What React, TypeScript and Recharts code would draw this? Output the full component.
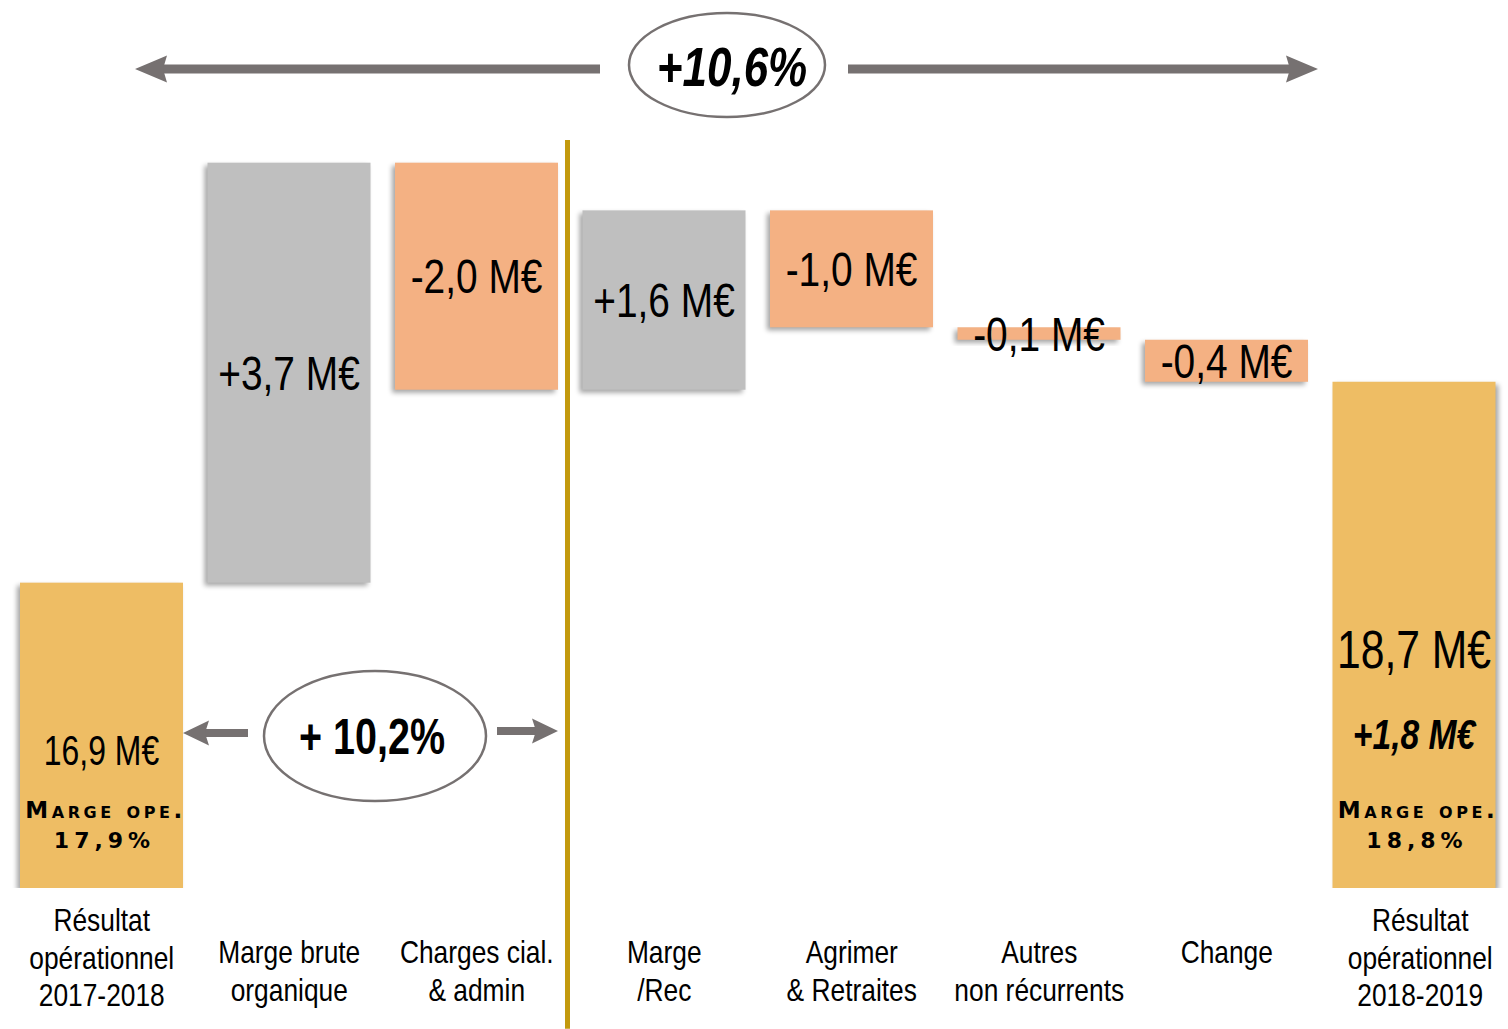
import React from "react";
import {
  BarChart,
  Bar,
  XAxis,
  YAxis,
  ReferenceLine,
  LabelList,
} from "recharts";

/* -------------------------------------------------------------------------- */
/*  Data                                                                      */
/* -------------------------------------------------------------------------- */

const CATEGORIES = [
  "Résultat opérationnel 2017-2018",
  "Marge brute organique",
  "Charges cial. & admin",
  "Marge /Rec",
  "Agrimer & Retraites",
  "Autres non récurrents",
  "Change",
  "Résultat opérationnel 2018-2019",
];

const CATEGORY_LINES = [
  ["Résultat", "opérationnel", "2017-2018"],
  ["Marge brute", "organique"],
  ["Charges cial.", "& admin"],
  ["Marge", "/Rec"],
  ["Agrimer", "& Retraites"],
  ["Autres", "non récurrents"],
  ["Change"],
  ["Résultat", "opérationnel", "2018-2019"],
];

// M€ values (start total, variations, end total)
const START_VALUE = 16.9;
const DELTAS = [3.7, -2.0, 1.58, -1.03, -0.11, -0.37];
const END_VALUE = 18.67;

const VALUE_LABELS = [
  "16,9 M€",
  "+3,7 M€",
  "-2,0 M€",
  "+1,6 M€",
  "-1,0 M€",
  "-0,1 M€",
  "-0,4 M€",
  "18,7 M€",
];

const MARGIN_LABELS = ["17,9%", "18,8%"];
const END_VARIATION_LABEL = "+1,8 M€";
const HALF_YEAR_GROWTH = "+ 10,2%";
const YEAR_GROWTH = "+10,6%";

// axis floor is cut (broken base) : bars start at this value
const Y_FLOOR = 14.21;
const Y_TOP = 20.8;
const Y_BOTTOM_EXT = 12.97;

/* -------------------------------------------------------------------------- */
/*  Styles                                                                    */
/* -------------------------------------------------------------------------- */

const W = 1508;
const H = 1029;
const FONT = '"Liberation Sans", Arial, sans-serif';
const CAPS = '"DejaVu Sans", Verdana, sans-serif';

const COLORS = {
  total: "#EEBD64",
  up: "#BFBFBF",
  down: "#F4B183",
  divider: "#C39A0E",
  arrow: "#767171",
};

type Row = {
  name: string;
  range: [number, number];
  kind: "total" | "up" | "down";
};

function buildRows(): Row[] {
  const rows: Row[] = [];
  rows.push({ name: CATEGORIES[0], range: [Y_FLOOR, START_VALUE], kind: "total" });
  let level = START_VALUE;
  DELTAS.forEach((d, i) => {
    const next = level + d;
    rows.push({
      name: CATEGORIES[i + 1],
      range: [Math.min(level, next), Math.max(level, next)],
      kind: d >= 0 ? "up" : "down",
    });
    level = next;
  });
  rows.push({ name: CATEGORIES[7], range: [Y_FLOOR, END_VALUE], kind: "total" });
  return rows;
}

const rows = buildRows();

/* -------------------------------------------------------------------------- */
/*  Text helper: condensed look (no narrow font installed)                    */
/* -------------------------------------------------------------------------- */

function NText({
  x,
  y,
  sx = 0.82,
  size,
  bold,
  italic,
  children,
}: {
  x: number;
  y: number;
  sx?: number;
  size: number;
  bold?: boolean;
  italic?: boolean;
  children: React.ReactNode;
}) {
  return (
    <text
      transform={`translate(${x} ${y}) scale(${sx} 1)`}
      textAnchor="middle"
      fontFamily={FONT}
      fontSize={size}
      fontWeight={bold ? "bold" : "normal"}
      fontStyle={italic ? "italic" : "normal"}
      fill="#000"
    >
      {children}
    </text>
  );
}

/* -------------------------------------------------------------------------- */
/*  Shapes                                                                    */
/* -------------------------------------------------------------------------- */

function ShadowBar(props: any) {
  const { x, y, width, height, payload, index } = props;
  if (width == null || height == null) return null;
  const fill = COLORS[(payload as Row).kind];
  const isLast = index === rows.length - 1;
  const dx = isLast ? 3 : -3;
  return (
    <g>
      <rect
        x={x + dx}
        y={y + 3}
        width={width}
        height={height}
        fill="#000"
        opacity={0.35}
        filter="url(#barShadow)"
      />
      <rect x={x} y={y} width={width} height={height} fill={fill} />
    </g>
  );
}

function BarLabel(props: any) {
  const { x, y, width, height, index } = props;
  const cx = x + width / 2;
  const bottom = y + height;
  if (index === 0 || index === rows.length - 1) {
    const isLast = index === rows.length - 1;
    return (
      <g>
        {isLast ? (
          <NText x={cx} y={bottom - 220} size={54} sx={0.79}>
            {VALUE_LABELS[index]}
          </NText>
        ) : (
          <NText x={cx} y={bottom - 123} size={42} sx={0.76}>
            {VALUE_LABELS[index]}
          </NText>
        )}
        {isLast && (
          <NText x={cx} y={bottom - 139} size={42} sx={0.8} bold italic>
            {END_VARIATION_LABEL}
          </NText>
        )}
        <text
          x={cx + 4}
          y={bottom - 70}
          textAnchor="middle"
          fontFamily={CAPS}
          fontSize={23}
          fontWeight="bold"
          letterSpacing={3.6}
          style={{ fontVariant: "small-caps" }}
          fill="#000"
        >
          Marge ope.
        </text>
        <text
          x={cx + 3}
          y={bottom - 40}
          textAnchor="middle"
          fontFamily={CAPS}
          fontSize={22}
          fontWeight="bold"
          letterSpacing={5}
          fill="#000"
        >
          {MARGIN_LABELS[isLast ? 1 : 0]}
        </text>
      </g>
    );
  }
  return (
    <NText x={cx} y={y + height / 2 + 17} size={48} sx={0.81}>
      {VALUE_LABELS[index]}
    </NText>
  );
}

function CategoryTick(props: any) {
  const { x, y, index } = props;
  const lines = CATEGORY_LINES[index] ?? [];
  const lineH = 37.5;
  const startY = lines.length === 3 ? y + 35 : y + 67;
  const shift = index === CATEGORY_LINES.length - 1 ? 6 : 0;
  return (
    <g>
      {lines.map((l, i) => (
        <NText key={i} x={x + shift} y={startY + i * lineH} size={31} sx={0.85}>
          {l}
        </NText>
      ))}
    </g>
  );
}

function DividerLine(props: any) {
  const { x1, y1, x2, y2 } = props;
  return (
    <line
      x1={x1 - 3}
      y1={y1}
      x2={x2 - 3}
      y2={y2}
      stroke={COLORS.divider}
      strokeWidth={5}
    />
  );
}

/* -------------------------------------------------------------------------- */
/*  Annotations (growth bubbles + arrows)                                     */
/* -------------------------------------------------------------------------- */

function Arrow({ x1, x2, y, thick, head, headW }: { x1: number; x2: number; y: number; thick: number; head: number; headW: number }) {
  const dir = Math.sign(x2 - x1);
  const base = x2 - dir * head;
  return (
    <g fill={COLORS.arrow}>
      <rect x={Math.min(x1, base)} y={y - thick / 2} width={Math.abs(base - x1)} height={thick} />
      <polygon points={`${x2},${y} ${base - dir * 4},${y - headW / 2} ${base},${y} ${base - dir * 4},${y + headW / 2}`} />
    </g>
  );
}

function Annotations() {
  return (
    <svg
      width={W}
      height={H}
      style={{ position: "absolute", left: 0, top: 0, pointerEvents: "none" }}
    >
      {/* full-year growth */}
      <Arrow x1={600} x2={135} y={69} thick={9} head={28} headW={27} />
      <Arrow x1={848} x2={1318} y={69} thick={9} head={28} headW={27} />
      <ellipse cx={727} cy={65} rx={98} ry={52} fill="#fff" stroke={COLORS.arrow} strokeWidth={2.5} />
      <NText x={732} y={86} size={55} sx={0.8} bold italic>
        {YEAR_GROWTH}
      </NText>

      {/* half-year growth */}
      <Arrow x1={248} x2={183} y={733} thick={8} head={22} headW={25} />
      <Arrow x1={497} x2={558} y={731} thick={8} head={22} headW={25} />
      <ellipse cx={375} cy={736} rx={111} ry={65} fill="#fff" stroke={COLORS.arrow} strokeWidth={2.5} />
      <NText x={372} y={754} size={50} sx={0.79} bold>
        {HALF_YEAR_GROWTH}
      </NText>
    </svg>
  );
}

/* -------------------------------------------------------------------------- */
/*  App                                                                       */
/* -------------------------------------------------------------------------- */

export default function App() {
  return (
    <div
      style={{
        position: "absolute",
        left: 0,
        top: 0,
        width: W,
        height: H,
        background: "#fff",
        overflow: "hidden",
      }}
    >
      <svg width={0} height={0} style={{ position: "absolute" }}>
        <defs>
          <filter id="barShadow" x="-20%" y="-20%" width="140%" height="140%">
            <feGaussianBlur stdDeviation="2.5" />
          </filter>
        </defs>
      </svg>
      <BarChart
        width={W}
        height={H}
        data={rows}
        margin={{ top: 140, right: 0, bottom: 0, left: 8 }}
        barSize={163}
      >
        <XAxis
          dataKey="name"
          height={141}
          axisLine={false}
          tickLine={false}
          interval={0}
          tick={<CategoryTick />}
        />
        <YAxis
          hide
          type="number"
          domain={[Y_FLOOR, Y_TOP]}
          allowDataOverflow
        />
        <Bar dataKey="range" isAnimationActive={false} shape={<ShadowBar />}>
          <LabelList dataKey="range" content={<BarLabel />} />
        </Bar>
        <ReferenceLine
          segment={[
            { x: CATEGORIES[2], y: Y_TOP },
            { x: CATEGORIES[2], y: Y_BOTTOM_EXT },
          ]}
          position="end"
          ifOverflow="visible"
          stroke={COLORS.divider}
          strokeWidth={5}
          shape={<DividerLine />}
        />
      </BarChart>
      <Annotations />
    </div>
  );
}
